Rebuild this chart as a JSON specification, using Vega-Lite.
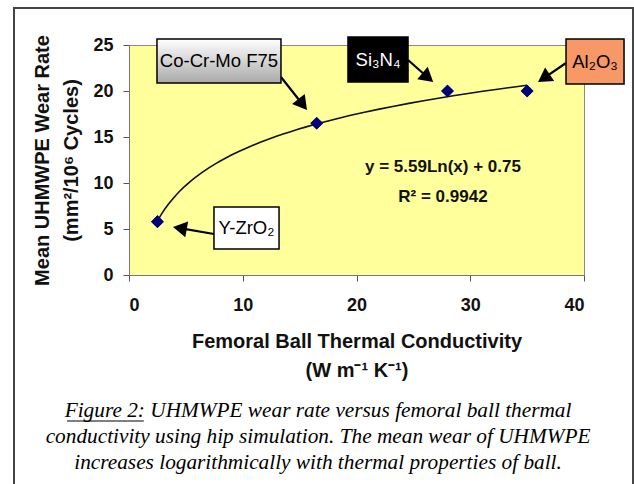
{
  "$schema": "https://vega.github.io/schema/vega-lite/v6.json",
  "width": 455,
  "height": 230,
  "autosize": {"type": "none"},
  "padding": {"left": 129, "top": 45, "right": 50, "bottom": 209},
  "background": "white",
  "config": {
    "view": {"fill": "#FFFF9C", "stroke": "#8a8a8a", "strokeWidth": 1},
    "font": "Liberation Sans",
    "axis": {
      "labelFont": "Liberation Sans",
      "labelFontWeight": "bold",
      "labelFontSize": 18,
      "labelColor": "#111111",
      "titleFont": "Liberation Sans",
      "titleFontWeight": "bold",
      "titleFontSize": 20,
      "titleColor": "#111111",
      "titleLineHeight": 29,
      "tickColor": "#555555",
      "tickSize": 6,
      "domainColor": "#777777",
      "grid": false
    }
  },
  "datasets": {
    "points": [
      {"material": "Y-ZrO2", "k": 2.5, "wear": 5.8},
      {"material": "Co-Cr-Mo F75", "k": 16.5, "wear": 16.5},
      {"material": "Si3N4", "k": 28, "wear": 20},
      {"material": "Al2O3", "k": 35, "wear": 20}
    ],
    "notes": [
      {"label": "Co-Cr-Mo F75", "bx1": 2.46, "bx2": 13.36, "by1": 25.65, "by2": 20.87, "tx": 7.91, "ty": 23.26, "ax1": 13.36, "ay1": 21.52, "ax2": 15.27, "ay2": 18.53},
      {"label": "Si₃N₄", "bx1": 19.25, "bx2": 24.53, "by1": 25.87, "by2": 20.98, "tx": 21.89, "ty": 23.42, "ax1": 24.53, "ay1": 23.37, "ax2": 26.27, "ay2": 21.47},
      {"label": "Al₂O₃", "bx1": 38.42, "bx2": 43.52, "by1": 25.65, "by2": 20.76, "tx": 40.97, "ty": 23.2, "ax1": 38.42, "ay1": 23.04, "ax2": 36.47, "ay2": 21.4},
      {"label": "Y-ZrO₂", "bx1": 7.47, "bx2": 13.19, "by1": 7.39, "by2": 2.83, "tx": 10.33, "ty": 5.11, "ax1": 7.47, "ay1": 4.46, "ax2": 4.47, "ay2": 5.09}
    ],
    "equation": [
      {"text": "y = 5.59Ln(x) + 0.75", "ex": 27.6, "ey": 11.74},
      {"text": "R² = 0.9942", "ex": 27.6, "ey": 8.48}
    ],
    "caption": [
      {"text": "Figure 2: UHMWPE wear rate versus femoral ball thermal", "cx": 16.62, "cy": -14.78},
      {"text": "conductivity using hip simulation. The mean wear of UHMWPE", "cx": 16.62, "cy": -17.61},
      {"text": "increases logarithmically with thermal properties of ball.", "cx": 16.62, "cy": -20.43}
    ],
    "underline": [{"u1": -5.45, "u2": 1.3, "uy": -15.87}],
    "frame": [{"f1": -10.11, "f2": 44.31, "g1": 29.02, "g2": -23.6}]
  },
  "layer": [
    {
      "data": {"name": "points"},
      "mark": {"type": "point", "shape": "diamond", "filled": true, "color": "#00007A", "size": 160, "opacity": 1},
      "encoding": {
        "x": {
          "field": "k", "type": "quantitative",
          "scale": {"domain": [0, 40], "nice": false},
          "axis": {"values": [0, 10, 20, 30, 40], "title": ["Femoral Ball Thermal Conductivity", "(W m⁻¹ K⁻¹)"], "labelPadding": 15, "titlePadding": 17}
        },
        "y": {
          "field": "wear", "type": "quantitative",
          "scale": {"domain": [0, 25], "nice": false},
          "axis": {"values": [0, 5, 10, 15, 20, 25], "title": ["Mean UHMWPE Wear Rate", "(mm²/10⁶ Cycles)"], "labelPadding": 10, "titlePadding": 11}
        }
      }
    },
    {
      "data": {"name": "frame"},
      "mark": {"type": "rect", "fill": "white", "fillOpacity": 0, "stroke": "#444444", "strokeWidth": 2},
      "encoding": {
        "x": {"field": "f1", "type": "quantitative"},
        "x2": {"field": "f2"},
        "y": {"field": "g1", "type": "quantitative"},
        "y2": {"field": "g2"}
      }
    },
    {
      "data": {"name": "points"},
      "transform": [{"regression": "wear", "on": "k", "method": "log", "extent": [2.5, 35]}],
      "mark": {"type": "line", "color": "#111111", "strokeWidth": 1.6},
      "encoding": {
        "x": {"field": "k", "type": "quantitative"},
        "y": {"field": "wear", "type": "quantitative"}
      }
    },
    {
      "data": {"name": "points"},
      "mark": {"type": "point", "shape": "diamond", "filled": true, "color": "#00007A", "size": 160, "opacity": 1},
      "encoding": {
        "x": {"field": "k", "type": "quantitative"},
        "y": {"field": "wear", "type": "quantitative"}
      }
    },
    {
      "data": {"name": "notes"},
      "mark": {"type": "rule", "color": "#000000", "strokeWidth": 2.2},
      "encoding": {
        "x": {"field": "ax1", "type": "quantitative"},
        "y": {"field": "ay1", "type": "quantitative"},
        "x2": {"field": "ax2"},
        "y2": {"field": "ay2"}
      }
    },
    {
      "data": {"name": "notes"},
      "transform": [{"filter": "datum.label === 'Co-Cr-Mo F75'"}],
      "mark": {"type": "point", "shape": "triangle-up", "filled": true, "color": "#000000", "opacity": 1, "size": 260, "angle": 142},
      "encoding": {
        "x": {"field": "ax2", "type": "quantitative"},
        "y": {"field": "ay2", "type": "quantitative"}
      }
    },
    {
      "data": {"name": "notes"},
      "transform": [{"filter": "datum.label === 'Si₃N₄'"}],
      "mark": {"type": "point", "shape": "triangle-up", "filled": true, "color": "#000000", "opacity": 1, "size": 260, "angle": 130},
      "encoding": {
        "x": {"field": "ax2", "type": "quantitative"},
        "y": {"field": "ay2", "type": "quantitative"}
      }
    },
    {
      "data": {"name": "notes"},
      "transform": [{"filter": "datum.label === 'Al₂O₃'"}],
      "mark": {"type": "point", "shape": "triangle-up", "filled": true, "color": "#000000", "opacity": 1, "size": 260, "angle": 236},
      "encoding": {
        "x": {"field": "ax2", "type": "quantitative"},
        "y": {"field": "ay2", "type": "quantitative"}
      }
    },
    {
      "data": {"name": "notes"},
      "transform": [{"filter": "datum.label === 'Y-ZrO₂'"}],
      "mark": {"type": "point", "shape": "triangle-up", "filled": true, "color": "#000000", "opacity": 1, "size": 260, "angle": 280},
      "encoding": {
        "x": {"field": "ax2", "type": "quantitative"},
        "y": {"field": "ay2", "type": "quantitative"}
      }
    },
    {
      "data": {"name": "notes"},
      "transform": [{"filter": "datum.label !== 'Co-Cr-Mo F75'"}],
      "mark": {"type": "rect", "stroke": "#000000", "strokeWidth": 1.5},
      "encoding": {
        "x": {"field": "bx1", "type": "quantitative"},
        "x2": {"field": "bx2"},
        "y": {"field": "by1", "type": "quantitative"},
        "y2": {"field": "by2"},
        "fill": {"field": "label", "type": "nominal", "scale": {"domain": ["Si₃N₄", "Al₂O₃", "Y-ZrO₂"], "range": ["#000000", "#F79866", "#FFFFFF"]}, "legend": null}
      }
    },
    {
      "data": {"name": "notes"},
      "transform": [{"filter": "datum.label === 'Co-Cr-Mo F75'"}],
      "mark": {
        "type": "rect", "stroke": "#000000", "strokeWidth": 1.5,
        "fill": {"gradient": "linear", "x1": 0, "y1": 0, "x2": 0, "y2": 1, "stops": [{"offset": 0, "color": "#FFFFFF"}, {"offset": 1, "color": "#A9A9A9"}]}
      },
      "encoding": {
        "x": {"field": "bx1", "type": "quantitative"},
        "x2": {"field": "bx2"},
        "y": {"field": "by1", "type": "quantitative"},
        "y2": {"field": "by2"}
      }
    },
    {
      "data": {"name": "notes"},
      "mark": {"type": "text", "font": "Liberation Sans", "fontSize": 18.5, "align": "center", "baseline": "middle"},
      "encoding": {
        "x": {"field": "tx", "type": "quantitative"},
        "y": {"field": "ty", "type": "quantitative"},
        "text": {"field": "label"},
        "color": {"field": "label", "type": "nominal", "scale": {"domain": ["Co-Cr-Mo F75", "Si₃N₄", "Al₂O₃", "Y-ZrO₂"], "range": ["#000000", "#FFFFFF", "#000000", "#000000"]}, "legend": null}
      }
    },
    {
      "data": {"name": "equation"},
      "mark": {"type": "text", "font": "Liberation Sans", "fontWeight": "bold", "fontSize": 17, "align": "center", "baseline": "middle", "color": "#111111"},
      "encoding": {
        "x": {"field": "ex", "type": "quantitative"},
        "y": {"field": "ey", "type": "quantitative"},
        "text": {"field": "text"}
      }
    },
    {
      "data": {"name": "caption"},
      "mark": {"type": "text", "font": "Liberation Serif", "fontStyle": "italic", "fontSize": 21.3, "align": "center", "baseline": "middle", "color": "#000000"},
      "encoding": {
        "x": {"field": "cx", "type": "quantitative"},
        "y": {"field": "cy", "type": "quantitative"},
        "text": {"field": "text"}
      }
    },
    {
      "data": {"name": "underline"},
      "mark": {"type": "rule", "color": "#000000", "strokeWidth": 1.2},
      "encoding": {
        "x": {"field": "u1", "type": "quantitative"},
        "x2": {"field": "u2"},
        "y": {"field": "uy", "type": "quantitative"}
      }
    }
  ]
}
